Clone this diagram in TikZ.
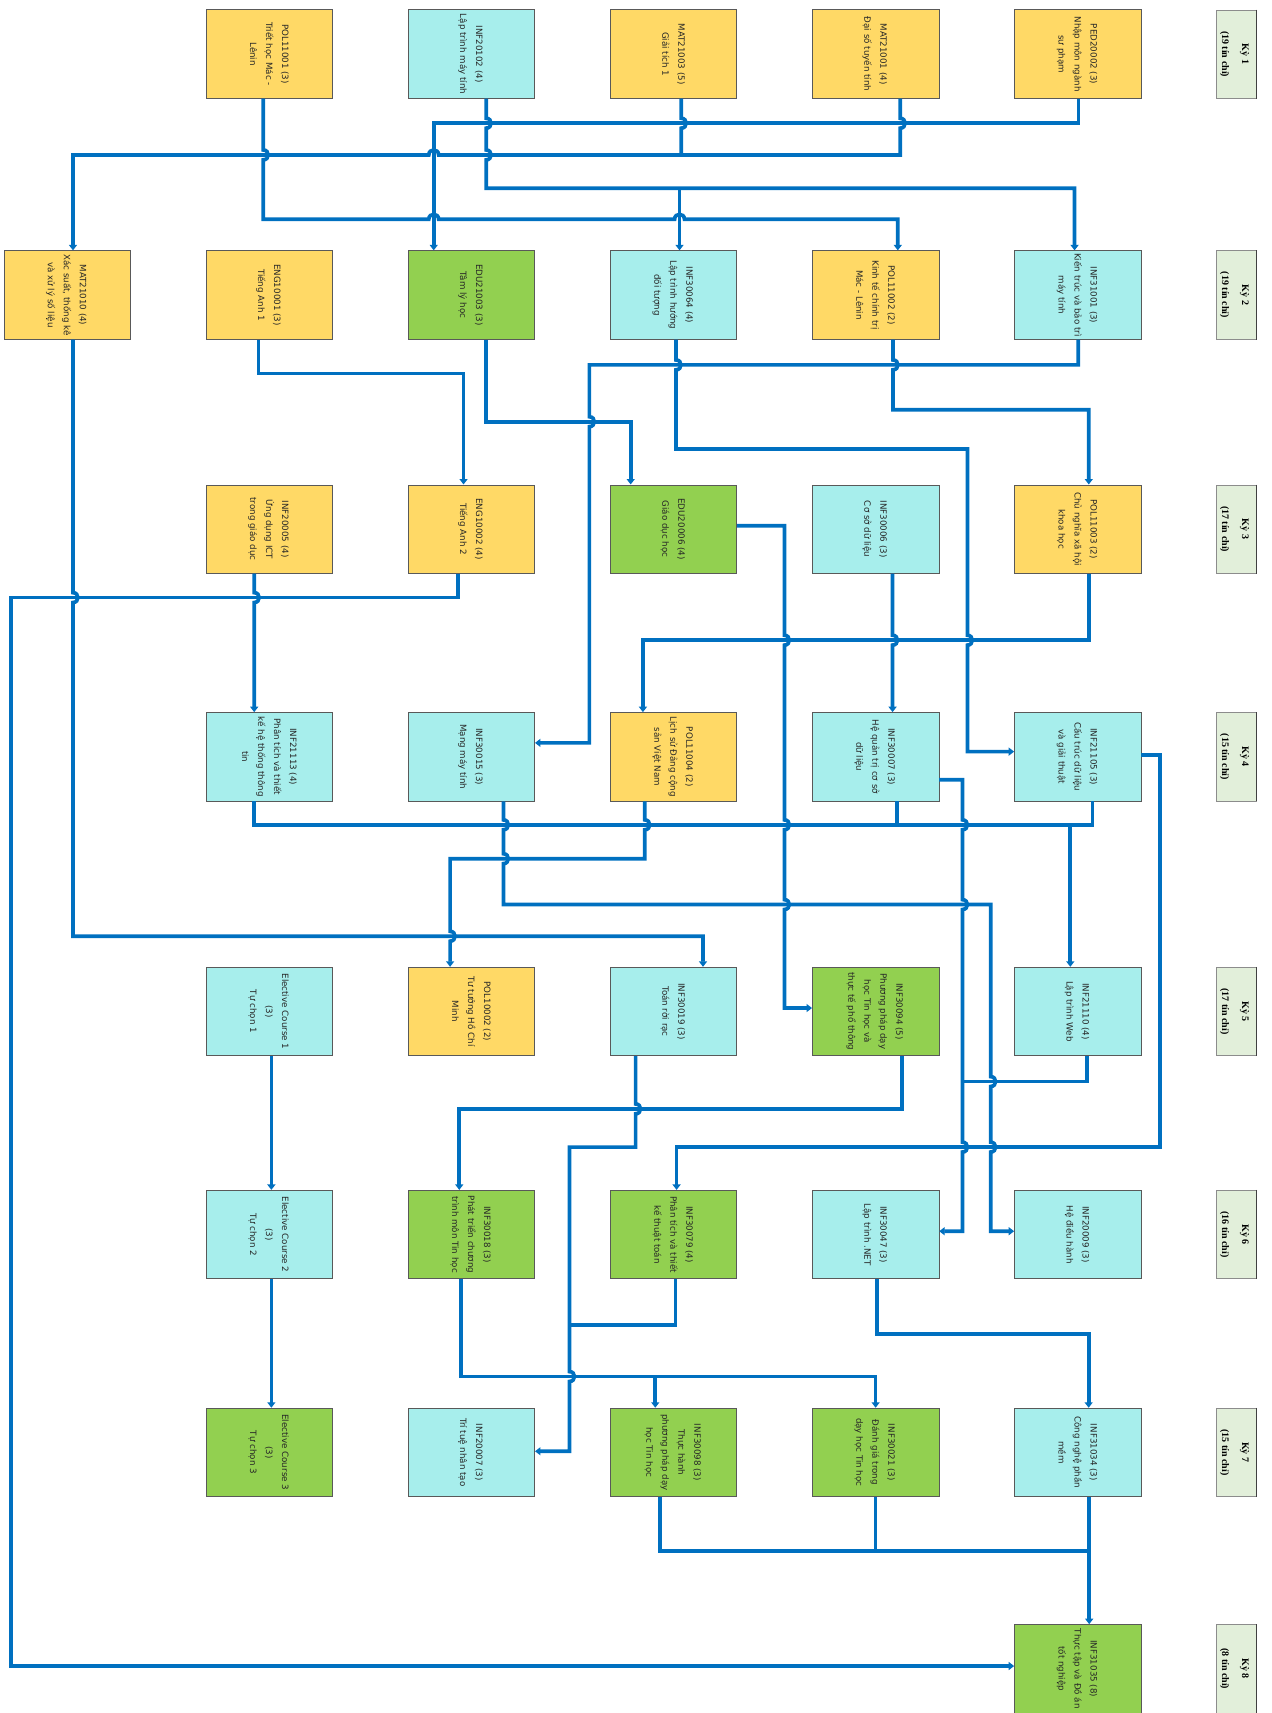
\documentclass[tikz,border=0pt]{standalone}
\usepackage{fontspec}
\usepackage{graphicx}
\setmainfont{DejaVu Sans}
\newfontfamily\lblfont{Liberation Serif}
\usetikzlibrary{arrows.meta,calc}
\definecolor{cyel}{HTML}{FFD966}
\definecolor{ccya}{HTML}{A7EEEC}
\definecolor{cgrn}{HTML}{92D050}
\definecolor{clbl}{HTML}{E2EFDA}
\definecolor{cline}{HTML}{0070C0}
\newcommand{\rottxt}[1]{\rotatebox{-90}{\begin{tabular}{@{}c@{}}#1\end{tabular}}}
\begin{document}
\begin{tikzpicture}[x=1.0928pt,y=-1.0928pt,
  cbox/.style={draw=black!65, line width=0.7pt, minimum width=126.5pt, minimum height=88.5pt, inner sep=0pt, text=black!85, font=\fontsize{8.7}{16}\selectfont},
  yb/.style={cbox,fill=cyel}, cb/.style={cbox,fill=ccya}, gb/.style={cbox,fill=cgrn},
  sem/.style={draw=black!45, fill=clbl, line width=0.6pt, minimum width=38.5pt, minimum height=88.5pt, inner sep=0pt, font=\lblfont\bfseries\fontsize{10}{20}\selectfont},
  conn/.style={draw=cline, line width=3.7pt},
  arr/.style={conn, -{Triangle[length=5.5pt,width=8pt]}},
  vd/.style 2 args={insert path={-- (#1,#2-4.5) .. controls (#1+6,#2-4.5) and (#1+6,#2+4.5) .. (#1,#2+4.5)}},
  hr/.style 2 args={insert path={-- (#1-4.5,#2) .. controls (#1-4.5,#2-6) and (#1+4.5,#2-6) .. (#1+4.5,#2)}},
  hl/.style 2 args={insert path={-- (#1+4.5,#2) .. controls (#1+4.5,#2-6) and (#1-4.5,#2-6) .. (#1-4.5,#2)}},
]
\useasboundingbox (0,0) rectangle (1164,1568);
% semester labels
\node[sem] (k1) at (1131.5,49.5) {\rottxt{Kỳ 1\\(19 tín chỉ)}};
\node[sem] (k2) at (1131.5,270) {\rottxt{Kỳ 2\\(19 tín chỉ)}};
\node[sem] (k3) at (1131.5,484.3) {\rottxt{Kỳ 3\\(17 tín chỉ)}};
\node[sem] (k4) at (1131.5,692.7) {\rottxt{Kỳ 4\\(15 tín chỉ)}};
\node[sem] (k5) at (1131.5,925.8) {\rottxt{Kỳ 5\\(17 tín chỉ)}};
\node[sem] (k6) at (1131.5,1130) {\rottxt{Kỳ 6\\(16 tín chỉ)}};
\node[sem] (k7) at (1131.5,1329.4) {\rottxt{Kỳ 7\\(15 tín chỉ)}};
\node[sem] (k8) at (1131.5,1527.5) {\rottxt{Kỳ 8\\(8 tín chỉ)}};
\foreach \k in {k1,k2,k3,k4,k5,k6,k7,k8}{\draw[black!75,line width=1.6pt] (\k.north east) -- (\k.south east);}
% row 1
\node[yb] (pol11001) at (246.5,49.5) {\rottxt{POL11001 (3)\\Triết học Mác -\\Lênin}};
\node[cb] (inf20102) at (431.5,49.5) {\rottxt{INF20102 (4)\\Lập trình máy tính}};
\node[yb] (mat21003) at (616.5,49.5) {\rottxt{MAT21003 (5)\\Giải tích 1}};
\node[yb] (mat21001) at (801.5,49.5) {\rottxt{MAT21001 (4)\\Đại số tuyến tính}};
\node[yb] (ped20002) at (986.5,49.5) {\rottxt{PED20002 (3)\\Nhập môn ngành\\sư phạm}};
% row 2
\node[yb] (mat21010) at (61.5,270) {\rottxt{MAT21010 (4)\\Xác suất, thống kê\\và xử lý số liệu}};
\node[yb] (eng10001) at (246.5,270) {\rottxt{ENG10001 (3)\\Tiếng Anh 1}};
\node[gb] (edu21003) at (431.5,270) {\rottxt{EDU21003 (3)\\Tâm lý học}};
\node[cb] (inf30064) at (616.5,270) {\rottxt{INF30064 (4)\\Lập trình hướng\\đối tượng}};
\node[yb] (pol11002) at (801.5,270) {\rottxt{POL11002 (2)\\Kinh tế chính trị\\Mác - Lênin}};
\node[cb] (inf31001) at (986.5,270) {\rottxt{INF31001 (3)\\Kiến trúc và bảo trì\\máy tính}};
% row 3
\node[yb] (inf20005) at (246.5,484.3) {\rottxt{INF20005 (4)\\Ứng dụng ICT\\trong giáo dục}};
\node[yb] (eng10002) at (431.5,484.3) {\rottxt{ENG10002 (4)\\Tiếng Anh 2}};
\node[gb] (edu20006) at (616.5,484.3) {\rottxt{EDU20006 (4)\\Giáo dục học}};
\node[cb] (inf30006) at (801.5,484.3) {\rottxt{INF30006 (3)\\Cơ sở dữ liệu}};
\node[yb] (pol11003) at (986.5,484.3) {\rottxt{POL11003 (2)\\Chủ nghĩa xã hội\\khoa học}};
% row 4
\node[cb] (inf21113) at (246.5,692.7) {\rottxt{INF21113 (4)\\Phân tích và thiết\\kế hệ thống thông\\tin}};
\node[cb] (inf30015) at (431.5,692.7) {\rottxt{INF30015 (3)\\Mạng máy tính}};
\node[yb] (pol11004) at (616.5,692.7) {\rottxt{POL11004 (2)\\Lịch sử Đảng cộng\\sản Việt Nam}};
\node[cb] (inf30007) at (801.5,692.7) {\rottxt{INF30007 (3)\\Hệ quản trị cơ sở\\dữ liệu}};
\node[cb] (inf21105) at (986.5,692.7) {\rottxt{INF21105 (3)\\Cấu trúc dữ liệu\\và giải thuật}};
% row 5
\node[cb] (elec1) at (246.5,925.8) {\rottxt{Elective Course 1\\(3)\\Tự chọn 1}};
\node[yb] (pol10002) at (431.5,925.8) {\rottxt{POL10002 (2)\\Tư tưởng Hồ Chí\\Minh}};
\node[cb] (inf30019) at (616.5,925.8) {\rottxt{INF30019 (3)\\Toán rời rạc}};
\node[gb] (inf30094) at (801.5,925.8) {\rottxt{INF30094 (5)\\Phương pháp dạy\\học Tin học và\\thực tế phổ thông}};
\node[cb] (inf21110) at (986.5,925.8) {\rottxt{INF21110 (4)\\Lập trình Web}};
% row 6
\node[cb] (elec2) at (246.5,1130) {\rottxt{Elective Course 2\\(3)\\Tự chọn 2}};
\node[gb] (inf30018) at (431.5,1130) {\rottxt{INF30018 (3)\\Phát triển chương\\trình môn Tin học}};
\node[gb] (inf30079) at (616.5,1130) {\rottxt{INF30079 (4)\\Phân tích và thiết\\kế thuật toán}};
\node[cb] (inf30047) at (801.5,1130) {\rottxt{INF30047 (3)\\Lập trình .NET}};
\node[cb] (inf20009) at (986.5,1130) {\rottxt{INF20009 (3)\\Hệ điều hành}};
% row 7
\node[gb] (elec3) at (246.5,1329.4) {\rottxt{Elective Course 3\\(3)\\Tự chọn 3}};
\node[cb] (inf20007) at (431.5,1329.4) {\rottxt{INF20007 (3)\\Trí tuệ nhân tạo}};
\node[gb] (inf30098) at (616.5,1329.4) {\rottxt{INF30098 (3)\\Thực hành\\phương pháp dạy\\học Tin học}};
\node[gb] (inf30021) at (801.5,1329.4) {\rottxt{INF30021 (3)\\Đánh giá trong\\dạy học Tin học}};
\node[cb] (inf31034) at (986.5,1329.4) {\rottxt{INF31034 (3)\\Công nghệ phần\\mềm}};
% row 8
\node[gb] (inf31035) at (986.5,1527.5) {\rottxt{INF31035 (8)\\Thực tập và Đồ án\\tốt nghiệp}};
% junctions
\coordinate (j1) at (622,172.3);
\coordinate (j2) at (599.8,1260);
% connectors
\draw[arr] (pol11001.south -| 241,0) [vd={241}{141.8}] -- (241,200.7) [hr={397}{200.7}] [hr={622}{200.7}] -- (821.8,200.7) -- (pol11002.north -| 821.8,0);
\draw[arr] (inf20102.south -| 445,0) [vd={445}{112.8}] [vd={445}{141.8}] -- (445,172.3) -- (983.6,172.3) -- (inf31001.north -| 983.6,0);
\draw[arr] (j1) -- (inf30064.north -| 622,0);
\draw[arr] (mat21001.south -| 824,0) [vd={824}{112.8}] -- (824,141.8) [hl={397}{141.8}] -- (66.8,141.8) -- (mat21010.north -| 66.8,0);
\draw[conn] (mat21003.south -| 623.6,0) [vd={623.6}{112.8}] -- (623.6,141.8);
\draw[arr] (ped20002.south -| 987.3,0) -- (987.3,112.8) -- (397,112.8) -- (edu21003.north -| 397,0);
\draw[arr] (mat21010.south -| 66.8,0) [vd={66.8}{547}] -- (66.8,857) -- (643.5,857) -- (inf30019.north -| 643.5,0);
\draw[arr] (eng10001.south -| 236.5,0) -- (236.5,342) -- (424.3,342) -- (eng10002.north -| 424.3,0);
\draw[arr] (edu21003.south -| 445,0) -- (445,386) -- (577.3,386) -- (edu20006.north -| 577.3,0);
\draw[arr] (inf31001.south -| 987,0) -- (987,334) -- (539.5,334) [vd={539.5}{386}] -- (539.5,680) -- (inf30015.east |- 0,680);
\draw[arr] (inf30064.south -| 618.8,0) [vd={618.8}{334}] -- (618.8,411) -- (885.5,411) [vd={885.5}{586}] -- (885.5,688) -- (inf21105.west |- 0,688);
\draw[arr] (pol11002.south -| 817.4,0) [vd={817.4}{334}] -- (817.4,375) -- (996.6,375) -- (pol11003.north -| 996.6,0);
\draw[arr] (inf20005.south -| 232.7,0) [vd={232.7}{547}] -- (inf21113.north -| 232.7,0);
\draw[arr] (eng10002.south -| 419.3,0) -- (419.3,547) -- (10,547) -- (10,1525) -- (inf31035.west |- 0,1525);
\draw[arr] (pol11003.south -| 997,0) -- (997,586) -- (588.5,586) -- (pol11004.north -| 588.5,0);
\draw[arr] (inf30006.south -| 817,0) [vd={817}{586}] -- (inf30007.north -| 817,0);
\draw[arr] (edu20006.east |- 0,481.3) -- (718,481.3) [vd={718}{586}] [vd={718}{755}] [vd={718}{828}] -- (718,922.7) -- (inf30094.west |- 0,922.7);
\draw[arr] (inf21113.south -| 232.7,0) -- (232.7,755) -- (979.7,755) -- (inf21110.north -| 979.7,0);
\draw[conn] (inf30007.south -| 821,0) -- (821,755);
\draw[conn] (inf21105.south -| 1000,0) -- (1000,755) -- (979.7,755);
\draw[arr] (pol11004.south -| 590.2,0) [vd={590.2}{755}] -- (590.2,786) -- (412,786) [vd={412}{857}] -- (pol10002.north -| 412,0);
\draw[arr] (inf30015.south -| 460.8,0) [vd={460.8}{755}] [vd={460.8}{786}] -- (460.8,828) -- (906.8,828) [vd={906.8}{990}] [vd={906.8}{1050}] -- (906.8,1127) -- (inf20009.west |- 0,1127);
\draw[arr] (inf30007.east |- 0,713.8) -- (881,713.8) [vd={881}{755}] [vd={881}{828}] [vd={881}{1050}] -- (881,1127) -- (inf30047.east |- 0,1127);
\draw[conn] (inf21110.south -| 994.7,0) -- (994.7,990) -- (881,990);
\draw[arr] (inf21105.east |- 0,691) -- (1062,691) -- (1062,1050) -- (619.3,1050) -- (inf30079.north -| 619.3,0);
\draw[arr] (inf30094.south -| 825.6,0) -- (825.6,1015) -- (420.4,1015) -- (inf30018.north -| 420.4,0);
\draw[arr] (inf30019.south -| 581.8,0) [vd={581.8}{1015}] -- (581.8,1050) -- (521.3,1050) [vd={521.3}{1260}] -- (521.3,1328.4) -- (inf20007.east |- 0,1328.4);
\draw[conn] (inf30079.south -| 618.2,0) -- (618.2,1213) -- (521.3,1213);
\draw[arr] (inf30047.south -| 802.5,0) -- (802.5,1221) -- (996.5,1221) -- (inf31034.north -| 996.5,0);
\draw[arr] (inf30018.south -| 422,0) -- (422,1260) -- (801.5,1260) -- (inf30021.north -| 801.5,0);
\draw[arr] (j2) -- (inf30098.north -| 599.8,0);
\draw[conn] (inf30098.south -| 604.2,0) -- (604.2,1420) -- (997,1420);
\draw[conn] (inf30021.south -| 801.5,0) -- (801.5,1420);
\draw[arr] (inf31034.south -| 997,0) -- (inf31035.north -| 997,0);
\draw[arr] (elec1.south -| 248.4,0) -- (elec2.north -| 248.4,0);
\draw[arr] (elec2.south -| 248.4,0) -- (elec3.north -| 248.4,0);
\end{tikzpicture}
\end{document}
